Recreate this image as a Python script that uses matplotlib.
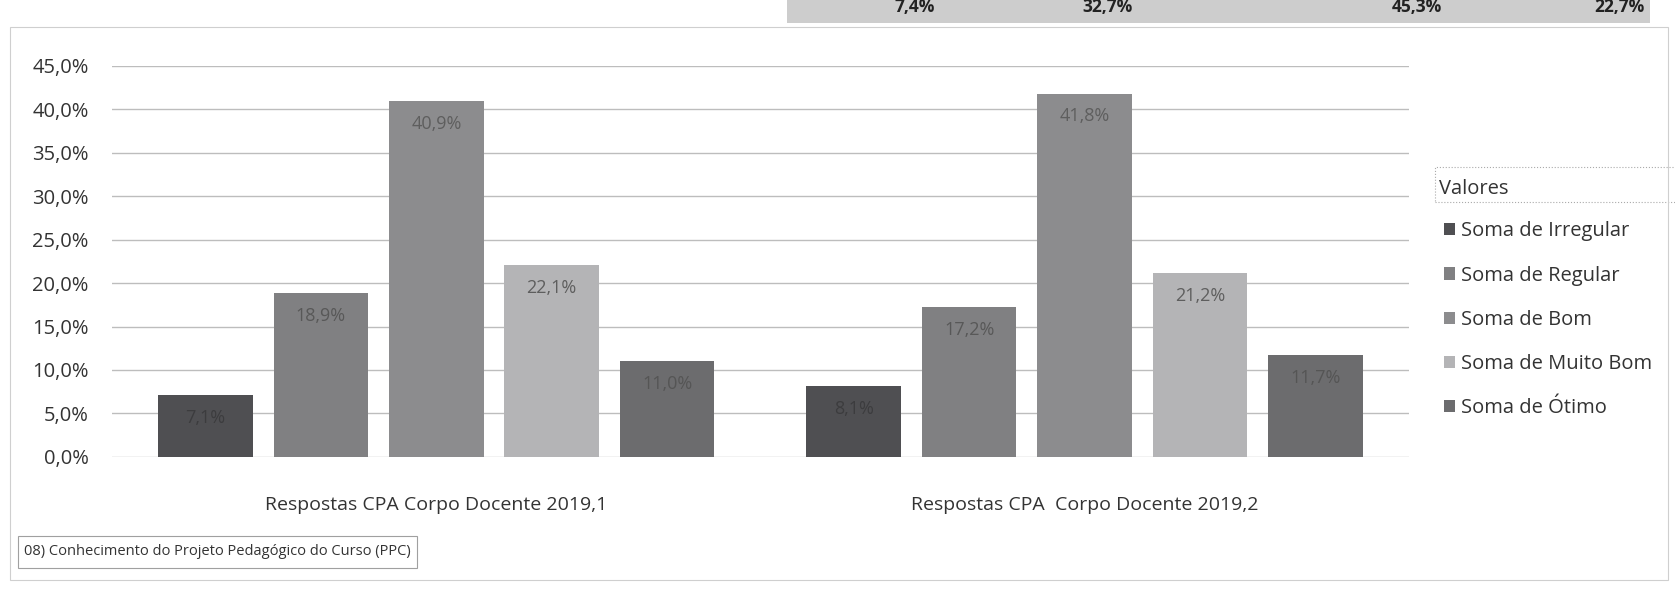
import numpy as np
import matplotlib.pyplot as plt
from matplotlib.patches import Rectangle

plt.rcParams['font.family'] = ['Open Sans', 'DejaVu Sans']

categories = ["Respostas CPA Corpo Docente 2019,1", "Respostas CPA  Corpo Docente 2019,2"]
series = ["Soma de Irregular", "Soma de Regular", "Soma de Bom", "Soma de Muito Bom", "Soma de Ótimo"]
values = {
    "Soma de Irregular": [7.1, 8.1],
    "Soma de Regular": [18.9, 17.2],
    "Soma de Bom": [40.9, 41.8],
    "Soma de Muito Bom": [22.1, 21.2],
    "Soma de Ótimo": [11.0, 11.7],
}
colors = ["#4f4f52", "#808082", "#8c8c8e", "#b4b4b6", "#6c6c6e"]
label_colors = ["#3c3c3e", "#585858", "#5e5e5e", "#5e5e5e", "#555555"]
yticks = np.arange(0, 46, 5)

# fragments of the table above, cut off by the scan
top_texts = ["7,4%", "32,7%", "45,3%", "22,7%"]
top_x = [0.558, 0.676, 0.861, 0.982]


def pct(v):
    return f"{v:.1f}%".replace(".", ",")


fig = plt.figure(figsize=(16.75, 5.98), dpi=100)
ax = fig.add_axes([0.067, 0.236, 0.774, 0.654])

x = np.arange(len(categories))
width = 0.146
step = 0.178
for i, s in enumerate(series):
    pos = x + (i - 2) * step
    bars = ax.bar(pos, values[s], width=width, color=colors[i], label=s, zorder=2)
    for b, v in zip(bars, values[s]):
        ax.text(b.get_x() + b.get_width() / 2, v - 1.6, pct(v),
                ha="center", va="top", fontsize=13, color=label_colors[i], zorder=3)

ax.set_xlim(-0.5, 1.5)
ax.set_ylim(0, 45)
ax.set_yticks(yticks)
ax.set_yticklabels([pct(t) for t in yticks], fontsize=14.5, color="#333333")
ax.set_xticks(x)
ax.set_xticklabels(categories, fontsize=14, color="#333333")
ax.tick_params(axis="both", length=0)
ax.tick_params(axis="y", pad=17)
ax.tick_params(axis="x", pad=28)
ax.grid(axis="y", color="#bdbdbd", linewidth=1.0, zorder=0)
for sp in ax.spines.values():
    sp.set_visible(False)

leg = fig.legend(loc="upper left", bbox_to_anchor=(0.851, 0.66), frameon=False,
                 fontsize=14.5, handlelength=0.55, handleheight=0.55, handletextpad=0.3,
                 labelspacing=1.2, labelcolor="#333333")
fig.text(0.859, 0.668, "Valores", fontsize=14.5, color="#333333", va="bottom")
fig.add_artist(Rectangle((0.857, 0.663), 0.15, 0.057, transform=fig.transFigure,
                         fill=False, edgecolor="#aaaaaa", linewidth=0.8, linestyle=":"))

# title box at the bottom left
fig.text(0.0145, 0.077, "08) Conhecimento do Projeto Pedagógico do Curso (PPC)",
         fontsize=10.5, color="#333333", va="center")
fig.add_artist(Rectangle((0.011, 0.05), 0.238, 0.054, transform=fig.transFigure,
                         fill=False, edgecolor="#a0a0a0", linewidth=0.8))

# outer chart border from the scan
fig.add_artist(Rectangle((0.006, 0.03), 0.99, 0.925, transform=fig.transFigure,
                         fill=False, edgecolor="#cfcfcf", linewidth=0.8))

# grey strip of the previous table at the top
fig.add_artist(Rectangle((0.47, 0.962), 0.515, 0.05, transform=fig.transFigure,
                         facecolor="#cdcdcd", edgecolor="none"))
for t, tx in zip(top_texts, top_x):
    fig.text(tx, 0.974, t, fontsize=12.5, fontweight="bold", color="#222222",
             ha="right", va="bottom")

fig.savefig("out.png", dpi=100)
